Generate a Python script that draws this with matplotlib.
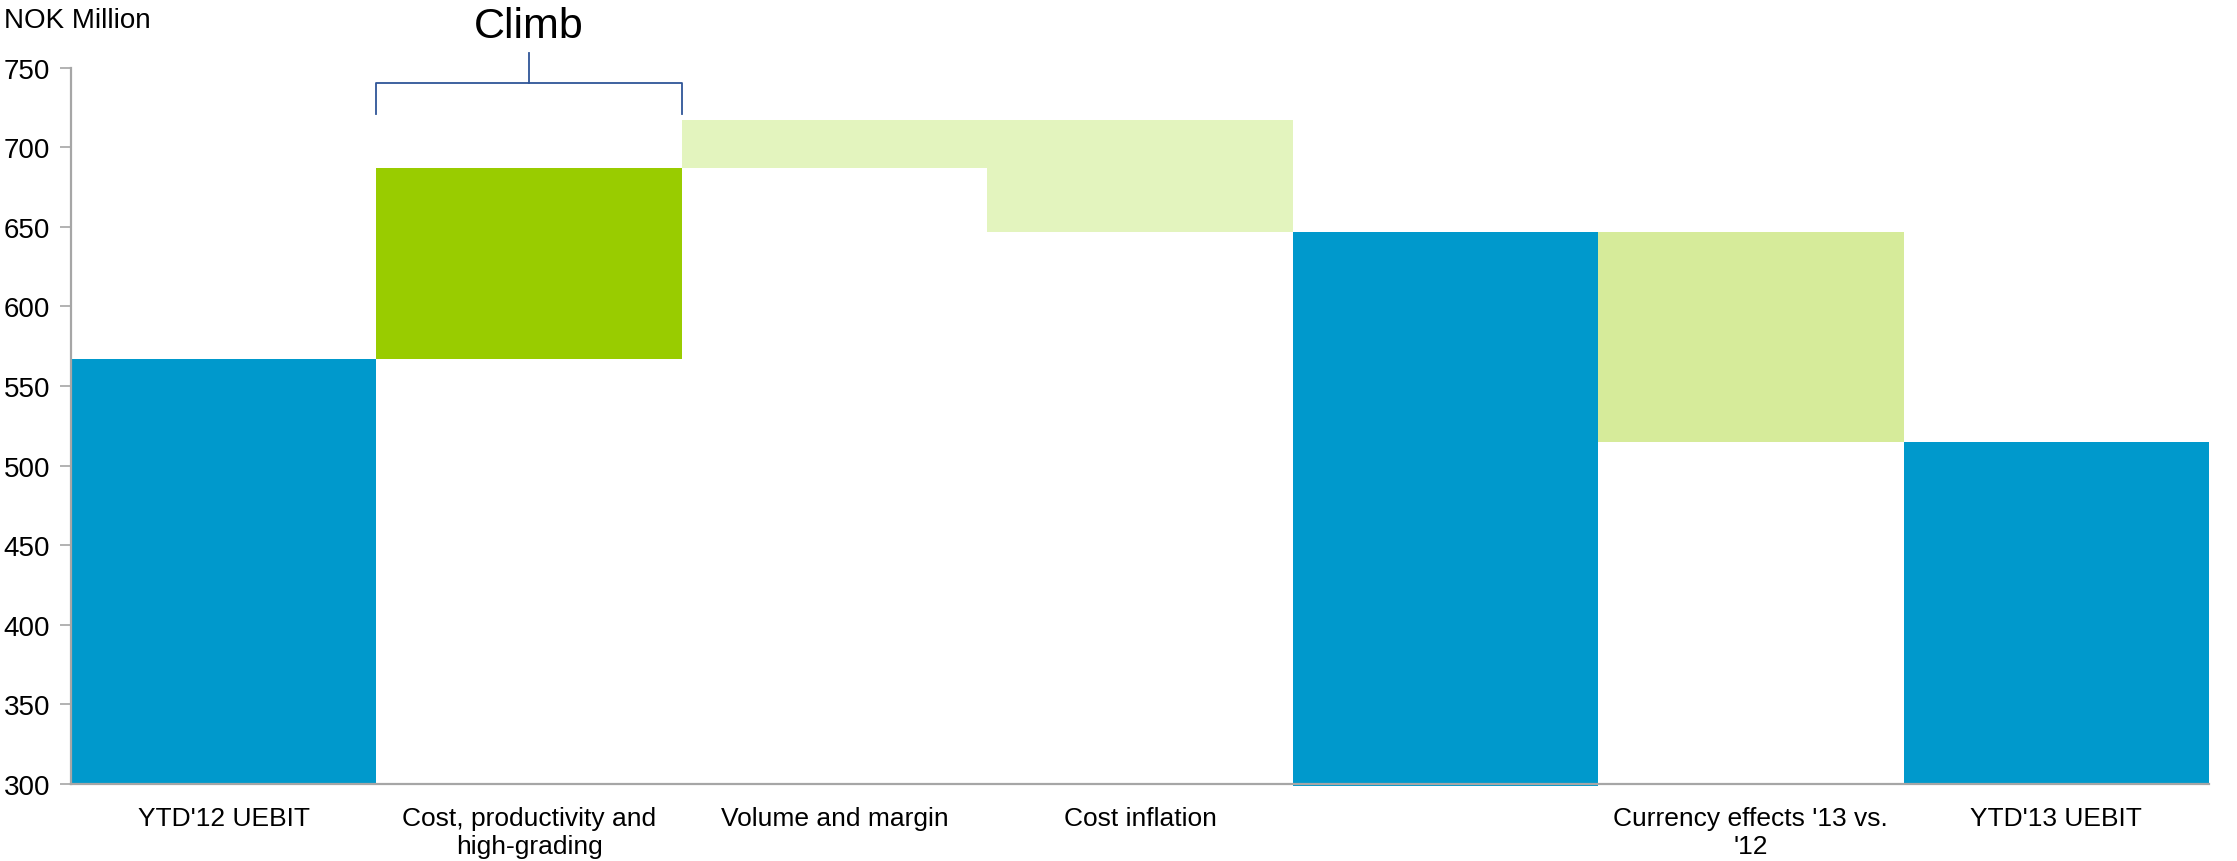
import numpy as np
import matplotlib
matplotlib.use("Agg")
import matplotlib.pyplot as plt

plt.rcParams['font.family'] = ['Liberation Sans', 'DejaVu Sans']

# waterfall data (NOK million)
categories = ["YTD'12 UEBIT", "Cost, productivity and\nhigh-grading", "Volume and margin",
              "Cost inflation", "", "Currency effects '13 vs.\n'12", "YTD'13 UEBIT"]
start_value = 567
changes = [120, 30, -70]
subtotal_value = 647
subtotal_base = 298.5   # the subtotal bar pokes just below the axis in the original
currency_change = -132
end_value = 515

blue = '#0099CC'
green = '#99CC00'
light_green = '#E3F4BE'
currency_green = '#D6EB9A'

# build bottoms/heights from the steps
bottoms, heights, colors = [0], [start_value], [blue]
level = start_value
step_colors = [green, light_green, light_green]
for ch, c in zip(changes, step_colors):
    bottoms.append(min(level, level + ch))
    heights.append(abs(ch))
    colors.append(c)
    level += ch
bottoms.append(subtotal_base); heights.append(subtotal_value - subtotal_base); colors.append(blue)
bottoms.append(min(subtotal_value, subtotal_value + currency_change))
heights.append(abs(currency_change)); colors.append(currency_green)
bottoms.append(0); heights.append(end_value); colors.append(blue)

fig = plt.figure(figsize=(22.37, 8.62), dpi=100)
ax = fig.add_axes([0.0317, 0.0893, 0.9558, 0.8312])

x = np.arange(len(categories))
bars = ax.bar(x, heights, bottom=bottoms, width=1.0, color=colors, linewidth=0, zorder=1)
bars[4].set_clip_on(False)

ax.set_xlim(-0.5, len(categories) - 0.5)
ax.set_ylim(300, 750)
ax.set_yticks(np.arange(300, 751, 50))
ax.set_xticks(x)
ax.set_xticklabels(categories, fontsize=19, linespacing=1.2)
ax.tick_params(axis='x', length=0, pad=16)
ax.tick_params(axis='y', labelsize=20, length=8, width=1.2, color='#A6A6A6', pad=7)

for s in ['top', 'right']:
    ax.spines[s].set_visible(False)
for s in ['left', 'bottom']:
    ax.spines[s].set_color('#A6A6A6')
    ax.spines[s].set_linewidth(1.6)
    ax.spines[s].set_zorder(3)

# "Climb" bracket over the cost/productivity bar
navy = '#2F5597'
bx0, bx1 = 0.5, 1.5
ax.plot([bx0, bx0, bx1, bx1], [721, 740, 740, 721], color=navy, lw=1.3, clip_on=False)
ax.plot([1.0, 1.0], [740, 759], color=navy, lw=1.3, clip_on=False)
ax.text(1.0, 776, 'Climb', fontsize=31, ha='center', va='center', clip_on=False)

fig.text(0.002, 0.976, 'NOK Million', fontsize=20, ha='left', va='center')

fig.savefig('out.png', dpi=100)
